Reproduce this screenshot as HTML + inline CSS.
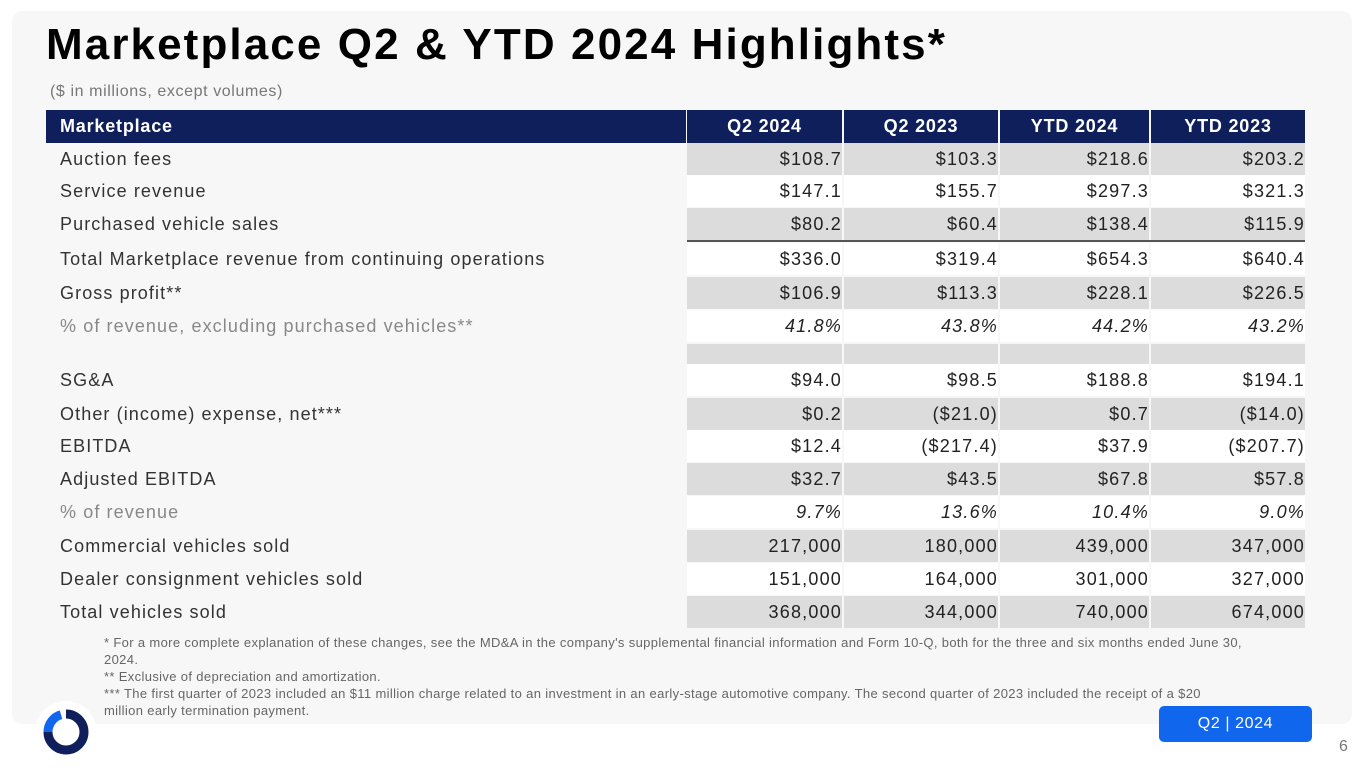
<!DOCTYPE html>
<html><head><meta charset="utf-8">
<style>
*{margin:0;padding:0;box-sizing:border-box}
body{width:1365px;height:768px;background:#fff;position:relative;overflow:hidden;font-family:"Liberation Sans",sans-serif;color:#222}
#card{position:absolute;left:12px;top:11px;width:1340px;height:713px;background:#f7f7f7;border-radius:10px}
#title{position:absolute;left:46px;top:20px;font-size:44px;font-weight:bold;color:#000;letter-spacing:2.1px}
#sub{position:absolute;left:50px;top:83px;font-size:16px;color:#777;letter-spacing:0.6px}
.hd{position:absolute;top:110px;height:33px;background:#0e1f5b;color:#fff;font-weight:bold;font-size:18px;line-height:33px;letter-spacing:0.8px}
.cell{position:absolute;height:32px;line-height:32px;font-size:18px;text-align:right;color:#222;white-space:nowrap;letter-spacing:1.2px}
.lab{position:absolute;left:60px;height:32px;line-height:32px;font-size:18px;color:#333;white-space:nowrap;letter-spacing:1.1px}
#notes{position:absolute;left:104px;top:634px;font-size:13px;line-height:17px;color:#666;width:1140px;letter-spacing:0.35px}
#badge{position:absolute;left:1159px;top:706px;width:153px;height:36px;background:#1166ee;border-radius:5px;color:#fff;font-size:16px;line-height:36px;text-align:center;letter-spacing:0.6px}
#pg{position:absolute;left:1339px;top:738px;font-size:16px;color:#777}
#logo{position:absolute;left:34px;top:700px}
</style></head><body>
<div id="card"></div>
<div id="title">Marketplace Q2 &amp; YTD 2024 Highlights*</div>
<div id="sub">($ in millions, except volumes)</div>
<div id="table"></div>
<div id="notes">* For a more complete explanation of these changes, see the MD&amp;A in the company's supplemental financial information and Form 10-Q, both for the three and six months ended June 30, 2024.<br>** Exclusive of depreciation and amortization.<br>*** The first quarter of 2023 included an $11 million charge related to an investment in an early-stage automotive company. The second quarter of 2023 included the receipt of a $20 million early termination payment.</div>
<svg id="logo" width="64" height="64" viewBox="0 0 64 64">
<circle cx="32" cy="32" r="31" fill="#fff"/>
<path d="M32 14 A18 18 0 1 1 14 32" fill="none" stroke="#0e1f5b" stroke-width="9"/>
<path d="M14 32 A18 18 0 0 1 27 14.7" fill="none" stroke="#1166ee" stroke-width="9"/>
</svg>
<div id="badge">Q2 | 2024</div>
<div id="pg">6</div>
<script>
const headers=["Q2 2024","Q2 2023","YTD 2024","YTD 2023"];
const labels=["Auction fees","Service revenue","Purchased vehicle sales","Total Marketplace revenue from continuing operations","Gross profit**","% of revenue, excluding purchased vehicles**","","SG&A","Other (income) expense, net***","EBITDA","Adjusted EBITDA","% of revenue","Commercial vehicles sold","Dealer consignment vehicles sold","Total vehicles sold"];
const colQ224=["$108.7","$147.1","$80.2","$336.0","$106.9","41.8%","","$94.0","$0.2","$12.4","$32.7","9.7%","217,000","151,000","368,000"];
const colQ223=["$103.3","$155.7","$60.4","$319.4","$113.3","43.8%","","$98.5","($21.0)","($217.4)","$43.5","13.6%","180,000","164,000","344,000"];
const colY24=["$218.6","$297.3","$138.4","$654.3","$228.1","44.2%","","$188.8","$0.7","$37.9","$67.8","10.4%","439,000","301,000","740,000"];
const colY23=["$203.2","$321.3","$115.9","$640.4","$226.5","43.2%","","$194.1","($14.0)","($207.7)","$57.8","9.0%","347,000","327,000","674,000"];
const cols=[colQ224,colQ223,colY24,colY23];
const colX=[[687,155],[844,154],[1000,149],[1151,154]];
const rowTop=[143,175,208,243,277,310,344,364,398,430,463,496,530,563,596];
const shaded=[1,0,1,0,1,0,1,0,1,0,1,0,1,0,1];
const pctRow=[0,0,0,0,0,1,0,0,0,0,0,1,0,0,0];
const T=document.getElementById('table');
let h=document.createElement('div');h.className='hd';h.style.left='46px';h.style.width='640px';h.style.paddingLeft='14px';h.textContent='Marketplace';


T.appendChild(h);
headers.forEach((t,i)=>{const d=document.createElement('div');d.className='hd';d.style.left=colX[i][0]+'px';d.style.width=colX[i][1]+'px';d.style.textAlign='center';d.textContent=t;


T.appendChild(d);});
labels.forEach((l,r)=>{
 const ht=r===6?20:32;
 const lb=document.createElement('div');lb.className='lab';lb.style.top=rowTop[r]+'px';lb.textContent=l;
 if(pctRow[r])lb.style.color='#888';
 
 
 T.appendChild(lb);
 cols.forEach((c,i)=>{const d=document.createElement('div');d.className='cell';
  d.style.left=colX[i][0]+'px';d.style.width=colX[i][1]+'px';d.style.top=rowTop[r]+'px';d.style.height=ht+'px';
  d.style.background=shaded[r]?'#dcdcdc':'#fff';
  if(pctRow[r])d.style.fontStyle='italic';
  d.textContent=c[r];
  
  
  T.appendChild(d);});
});
const ln=document.createElement('div');ln.style.cssText='position:absolute;left:687px;top:240px;width:618px;height:2px;background:#555';


T.appendChild(ln);
</script>
</body></html>
